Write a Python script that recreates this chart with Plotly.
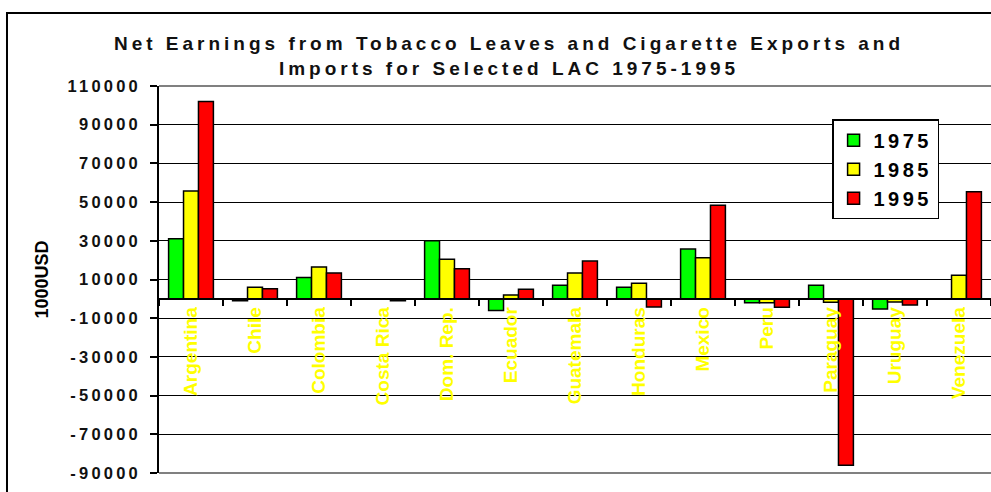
import plotly.graph_objects as go

# Net earnings (thousand USD) per country and year
countries = ["Argentina", "Chile", "Colombia", "Costa Rica", "Dom. Rep.", "Ecuador",
             "Guatemala", "Honduras", "Mexico", "Peru", "Paraguay", "Uruguay", "Venezuela"]
v1975 = [31000, -1000, 11000, 0, 30000, -6000, 7000, 6000, 25700, -2000, 7000, -5300, 0]
v1985 = [55800, 6000, 16500, 0, 20500, 2000, 13300, 8100, 21300, -2000, -1700, -1600, 12200]
v1995 = [102000, 5200, 13400, -1000, 15500, 5000, 19500, -4200, 48400, -4300, -86000, -3200, 55400]

series_names = ["1975", "1985", "1995"]
series_colors = ["#00FF00", "#FFFF00", "#FF0000"]

y_ticks = [-90000, -70000, -50000, -30000, -10000, 10000, 30000, 50000, 70000, 90000, 110000]

FONT = "Liberation Sans, Arial, sans-serif"


def spaced(text, px):
    return f'<span style="letter-spacing:{px}px">{text}</span>'


fig = go.Figure()
for name, vals, color in zip(series_names, [v1975, v1985, v1995], series_colors):
    fig.add_trace(go.Bar(
        x=countries, y=vals, name=spaced(name, 3.4),
        marker=dict(color=color, line=dict(color="black", width=1.5)),
    ))

fig.update_layout(
    width=991, height=492,
    margin=dict(l=159, r=0, t=86, b=19),
    paper_bgcolor="white", plot_bgcolor="white",
    barmode="group", bargap=0.3, bargroupgap=0,
    font=dict(family=FONT, color="black"),
    title=dict(
        text=spaced("Net Earnings from Tobacco Leaves and Cigarette Exports and", 4.0)
        + "<br>" + spaced("Imports for Selected LAC 1975-1995", 4.0),
        font=dict(family=FONT, size=19, weight="bold", color="#111111"),
        x=509 / 991, xref="container", xanchor="center",
        y=1 - 50 / 492, yref="container", yanchor="top",
    ),
    legend=dict(
        x=0.809, y=0.914, xanchor="left", yanchor="top",
        bgcolor="white", bordercolor="black", borderwidth=1.5,
        font=dict(family=FONT, size=20, weight="bold", color="black"),
    ),
    showlegend=True,
)

fig.update_yaxes(
    range=[-90000, 110000],
    tickvals=y_ticks,
    ticktext=[spaced(str(v), 3.2) for v in y_ticks],
    tickfont=dict(family=FONT, size=16.5, weight="bold", color="#111111"),
    ticks="outside", ticklen=7, tickcolor="black", tickwidth=1.5,
    ticklabelstandoff=6,
    showline=True, linecolor="black", linewidth=1.5,
    showgrid=True, gridcolor="black", gridwidth=1.2,
    zeroline=False,
    title=dict(text="1000USD", font=dict(family=FONT, size=18, weight="bold", color="black"),
               standoff=14),
)

fig.update_xaxes(
    type="category",
    anchor="free", position=0.45,
    showline=True, linecolor="black", linewidth=1.5,
    ticks="outside", tickson="boundaries", ticklen=6, tickcolor="black", tickwidth=1.5,
    tickangle=-90,
    tickfont=dict(family=FONT, size=19, weight="bold", color="#FFFF00"),
    showgrid=False,
)

# plot-area border (top and bottom) and outer chart frame
fig.add_shape(type="line", xref="paper", yref="paper", x0=0, x1=1.05, y0=1, y1=1,
              line=dict(color="#808080", width=2))
fig.add_shape(type="line", xref="paper", yref="paper", x0=0, x1=1.05, y0=0, y1=0,
              line=dict(color="#808080", width=2))
fig.add_shape(type="rect", xref="paper", yref="paper",
              x0=-0.1827, x1=1.05, y0=1.1886, y1=-0.08,
              line=dict(color="black", width=2), fillcolor="rgba(0,0,0,0)")

fig.write_html("out.html")
